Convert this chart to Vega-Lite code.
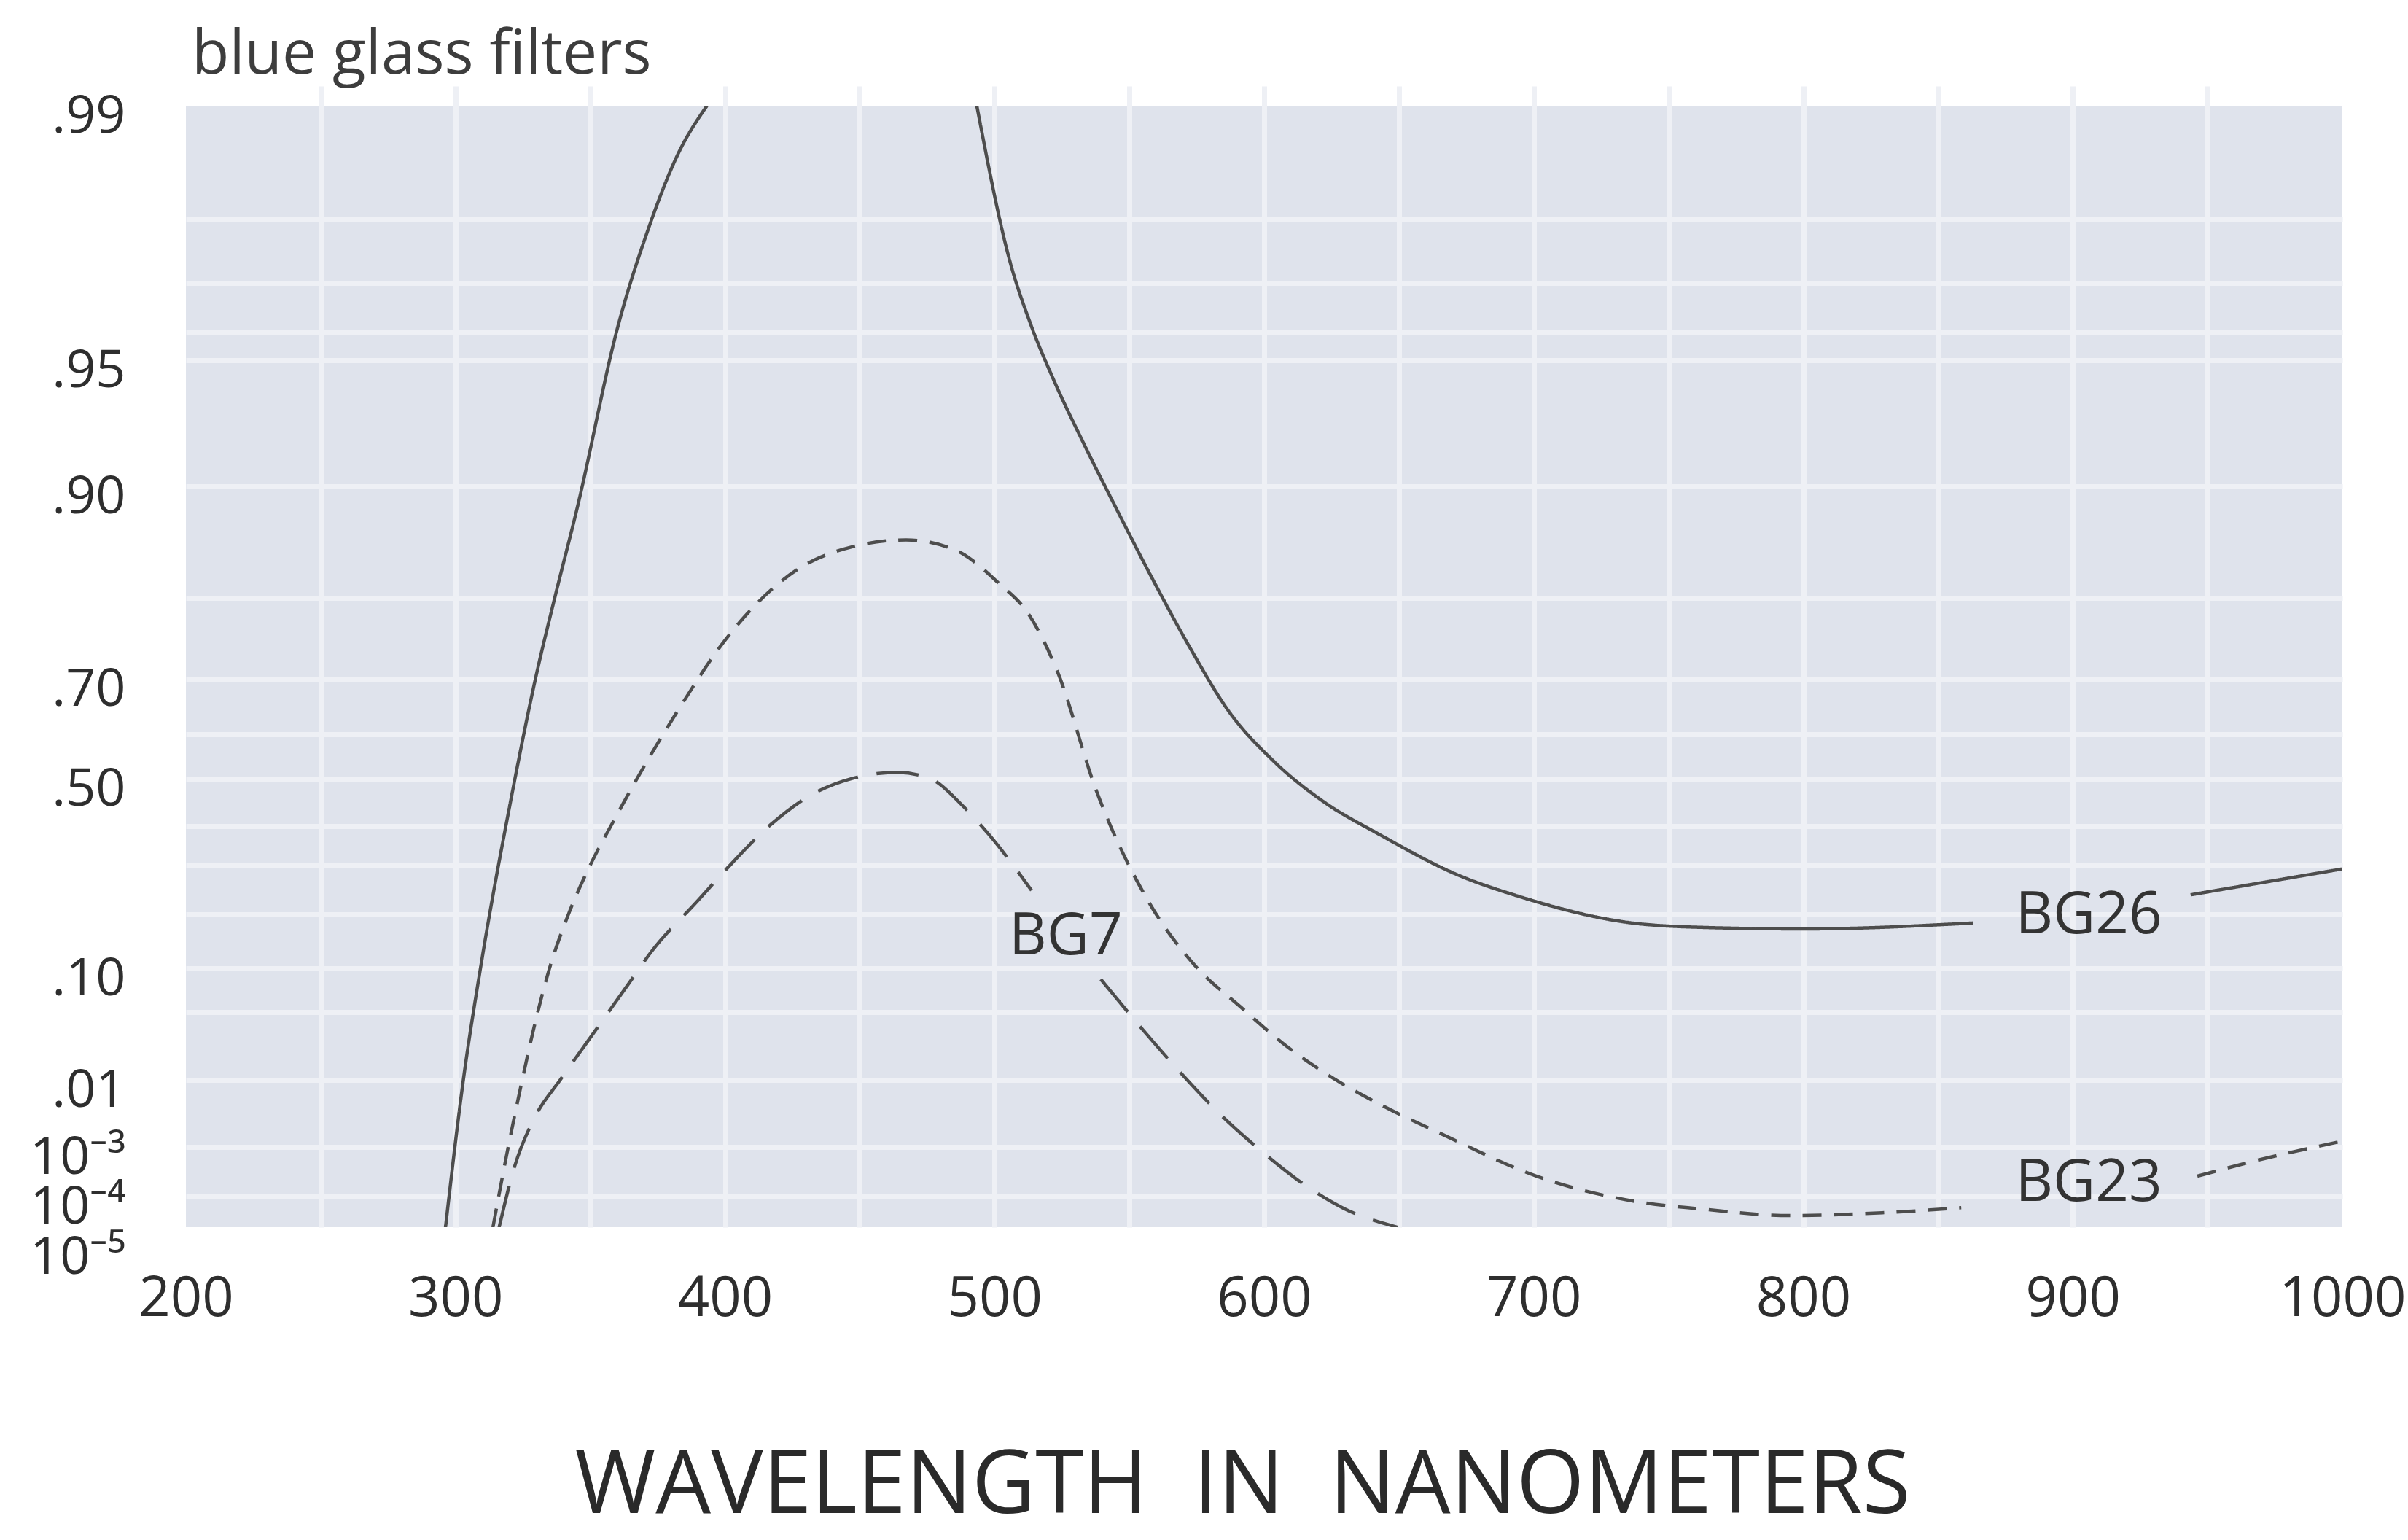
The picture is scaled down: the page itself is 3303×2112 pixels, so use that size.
{
  "$schema": "https://vega.github.io/schema/vega-lite/v6.json",
  "autosize": {"type": "none"},
  "width": 2958,
  "height": 1538,
  "padding": {"left": 255, "top": 145, "right": 90, "bottom": 429},
  "background": "white",
  "title": {"text": "blue glass filters", "anchor": "start", "frame": "group", "offset": -62, "baseline": "alphabetic", "font": "Open Sans", "fontSize": 84, "fontWeight": "normal", "color": "#3d3d3d", "dx": 8},
  "config": {"view": {"fill": "#dfe3ec", "stroke": null}, "font": "Open Sans"},
  "datasets": {
    "curves": [
      {"filter": "BG26", "seg": "BG26a", "nm": 296.3, "T": 0.000045},
      {"filter": "BG26", "seg": "BG26a", "nm": 303.0, "T": 0.0109},
      {"filter": "BG26", "seg": "BG26a", "nm": 309.5, "T": 0.107},
      {"filter": "BG26", "seg": "BG26a", "nm": 320.4, "T": 0.451},
      {"filter": "BG26", "seg": "BG26a", "nm": 330.4, "T": 0.711},
      {"filter": "BG26", "seg": "BG26a", "nm": 336.6, "T": 0.797},
      {"filter": "BG26", "seg": "BG26a", "nm": 345.2, "T": 0.881},
      {"filter": "BG26", "seg": "BG26a", "nm": 360.4, "T": 0.9615},
      {"filter": "BG26", "seg": "BG26a", "nm": 371.7, "T": 0.9786},
      {"filter": "BG26", "seg": "BG26a", "nm": 382.5, "T": 0.9857},
      {"filter": "BG26", "seg": "BG26a", "nm": 393.3, "T": 0.99},
      {"filter": "BG26", "seg": "BG26b", "nm": 493.4, "T": 0.99},
      {"filter": "BG26", "seg": "BG26b", "nm": 505.6, "T": 0.9735},
      {"filter": "BG26", "seg": "BG26b", "nm": 513.5, "T": 0.9615},
      {"filter": "BG26", "seg": "BG26b", "nm": 521.8, "T": 0.9425},
      {"filter": "BG26", "seg": "BG26b", "nm": 533.7, "T": 0.9156},
      {"filter": "BG26", "seg": "BG26b", "nm": 544.0, "T": 0.8856},
      {"filter": "BG26", "seg": "BG26b", "nm": 558.3, "T": 0.8183},
      {"filter": "BG26", "seg": "BG26b", "nm": 572.6, "T": 0.7378},
      {"filter": "BG26", "seg": "BG26b", "nm": 586.8, "T": 0.642},
      {"filter": "BG26", "seg": "BG26b", "nm": 603.8, "T": 0.538},
      {"filter": "BG26", "seg": "BG26b", "nm": 622.2, "T": 0.451},
      {"filter": "BG26", "seg": "BG26b", "nm": 643.0, "T": 0.378},
      {"filter": "BG26", "seg": "BG26b", "nm": 671.9, "T": 0.2806},
      {"filter": "BG26", "seg": "BG26b", "nm": 694.4, "T": 0.237},
      {"filter": "BG26", "seg": "BG26b", "nm": 735.0, "T": 0.185},
      {"filter": "BG26", "seg": "BG26b", "nm": 761.7, "T": 0.176},
      {"filter": "BG26", "seg": "BG26b", "nm": 800.1, "T": 0.173},
      {"filter": "BG26", "seg": "BG26b", "nm": 862.9, "T": 0.184},
      {"filter": "BG26", "seg": "BG26c", "nm": 943.7, "T": 0.240},
      {"filter": "BG26", "seg": "BG26c", "nm": 1000.0, "T": 0.293},
      {"filter": "BG23", "seg": "BG23a", "nm": 313.9, "T": 0.000045},
      {"filter": "BG23", "seg": "BG23a", "nm": 319.0, "T": 0.00086},
      {"filter": "BG23", "seg": "BG23a", "nm": 324.2, "T": 0.00904},
      {"filter": "BG23", "seg": "BG23a", "nm": 329.3, "T": 0.042},
      {"filter": "BG23", "seg": "BG23a", "nm": 335.0, "T": 0.1019},
      {"filter": "BG23", "seg": "BG23a", "nm": 341.8, "T": 0.1986},
      {"filter": "BG23", "seg": "BG23a", "nm": 350.4, "T": 0.3067},
      {"filter": "BG23", "seg": "BG23a", "nm": 358.9, "T": 0.4132},
      {"filter": "BG23", "seg": "BG23a", "nm": 365.8, "T": 0.4846},
      {"filter": "BG23", "seg": "BG23a", "nm": 382.8, "T": 0.645},
      {"filter": "BG23", "seg": "BG23a", "nm": 400.0, "T": 0.7477},
      {"filter": "BG23", "seg": "BG23a", "nm": 427.2, "T": 0.826},
      {"filter": "BG23", "seg": "BG23a", "nm": 447.5, "T": 0.846},
      {"filter": "BG23", "seg": "BG23a", "nm": 467.2, "T": 0.852},
      {"filter": "BG23", "seg": "BG23a", "nm": 485.3, "T": 0.843},
      {"filter": "BG23", "seg": "BG23a", "nm": 501.6, "T": 0.813},
      {"filter": "BG23", "seg": "BG23a", "nm": 512.6, "T": 0.780},
      {"filter": "BG23", "seg": "BG23a", "nm": 523.2, "T": 0.710},
      {"filter": "BG23", "seg": "BG23a", "nm": 537.8, "T": 0.474},
      {"filter": "BG23", "seg": "BG23a", "nm": 556.7, "T": 0.230},
      {"filter": "BG23", "seg": "BG23a", "nm": 574.0, "T": 0.107},
      {"filter": "BG23", "seg": "BG23a", "nm": 591.3, "T": 0.0558},
      {"filter": "BG23", "seg": "BG23a", "nm": 608.4, "T": 0.0298},
      {"filter": "BG23", "seg": "BG23a", "nm": 625.7, "T": 0.0109},
      {"filter": "BG23", "seg": "BG23a", "nm": 643.0, "T": 0.0067},
      {"filter": "BG23", "seg": "BG23a", "nm": 665.5, "T": 0.0028},
      {"filter": "BG23", "seg": "BG23a", "nm": 701.1, "T": 0.00047},
      {"filter": "BG23", "seg": "BG23a", "nm": 739.3, "T": 0.00009},
      {"filter": "BG23", "seg": "BG23a", "nm": 761.7, "T": 0.000078},
      {"filter": "BG23", "seg": "BG23a", "nm": 795.5, "T": 0.000066},
      {"filter": "BG23", "seg": "BG23a", "nm": 829.3, "T": 0.000071},
      {"filter": "BG23", "seg": "BG23a", "nm": 858.6, "T": 0.00008},
      {"filter": "BG23", "seg": "BG23b", "nm": 946.2, "T": 0.00047},
      {"filter": "BG23", "seg": "BG23b", "nm": 968.6, "T": 0.00076},
      {"filter": "BG23", "seg": "BG23b", "nm": 1000.0, "T": 0.00178},
      {"filter": "BG7", "seg": "BG7a", "nm": 316.2, "T": 0.000045},
      {"filter": "BG7", "seg": "BG7a", "nm": 321.9, "T": 0.00064},
      {"filter": "BG7", "seg": "BG7a", "nm": 329.3, "T": 0.0049},
      {"filter": "BG7", "seg": "BG7a", "nm": 339.0, "T": 0.0103},
      {"filter": "BG7", "seg": "BG7a", "nm": 348.7, "T": 0.032},
      {"filter": "BG7", "seg": "BG7a", "nm": 364.1, "T": 0.0818},
      {"filter": "BG7", "seg": "BG7a", "nm": 372.6, "T": 0.1304},
      {"filter": "BG7", "seg": "BG7a", "nm": 389.7, "T": 0.2269},
      {"filter": "BG7", "seg": "BG7a", "nm": 400.0, "T": 0.2896},
      {"filter": "BG7", "seg": "BG7a", "nm": 417.0, "T": 0.4034},
      {"filter": "BG7", "seg": "BG7a", "nm": 430.7, "T": 0.4617},
      {"filter": "BG7", "seg": "BG7a", "nm": 447.2, "T": 0.5007},
      {"filter": "BG7", "seg": "BG7a", "nm": 464.3, "T": 0.5144},
      {"filter": "BG7", "seg": "BG7a", "nm": 477.2, "T": 0.497},
      {"filter": "BG7", "seg": "BG7a", "nm": 487.8, "T": 0.445},
      {"filter": "BG7", "seg": "BG7a", "nm": 498.0, "T": 0.378},
      {"filter": "BG7", "seg": "BG7a", "nm": 513.7, "T": 0.249},
      {"filter": "BG7", "seg": "BG7b", "nm": 539.4, "T": 0.0875},
      {"filter": "BG7", "seg": "BG7b", "nm": 556.6, "T": 0.0366},
      {"filter": "BG7", "seg": "BG7b", "nm": 569.7, "T": 0.013},
      {"filter": "BG7", "seg": "BG7b", "nm": 582.8, "T": 0.0057},
      {"filter": "BG7", "seg": "BG7b", "nm": 596.5, "T": 0.0012},
      {"filter": "BG7", "seg": "BG7b", "nm": 615.3, "T": 0.000304},
      {"filter": "BG7", "seg": "BG7b", "nm": 629.5, "T": 0.0000789},
      {"filter": "BG7", "seg": "BG7b", "nm": 649.5, "T": 0.000045}
    ],
    "labels": [
      {"nm": 905.9, "T": 0.197, "label": "BG26"},
      {"nm": 905.9, "T": 0.000338, "label": "BG23"},
      {"nm": 526.4, "T": 0.158, "label": "BG7"}
    ]
  },
  "layer": [
    {
      "data": {"name": "curves"},
      "mark": {"type": "line", "clip": true, "strokeWidth": 4.5, "color": "#4d4d4d", "interpolate": "monotone"},
      "encoding": {
        "x": {
          "field": "nm", "type": "quantitative",
          "scale": {"domain": [200, 1000], "nice": false, "zero": false},
          "axis": {
            "values": [200, 250, 300, 350, 400, 450, 500, 550, 600, 650, 700, 750, 800, 850, 900, 950, 1000],
            "format": "d",
            "labelExpr": "datum.value % 100 == 0 ? datum.label : ''",
            "ticks": false, "domain": false,
            "labelPadding": 61, "labelFontSize": 76, "labelColor": "#2e2e2e", "labelFont": "Open Sans",
            "labelFlush": false, "labelOverlap": false, "labelBound": false,
            "title": "WAVELENGTH \u00a0IN \u00a0NANOMETERS",
            "titleFont": "Open Sans", "titleFontSize": 120, "titleFontWeight": "normal", "titleColor": "#2a2a2a", "titlePadding": 160, "titleX": 1449,
            "gridColor": "#eef0f5", "gridWidth": 7,
            "gridOpacity": {"condition": {"test": "datum.value == 200 || datum.value == 1000", "value": 0}, "value": 1}
          }
        },
        "y": {
          "field": "T", "type": "quantitative",
          "scale": {
            "domain": [0.00001, 0.0001, 0.001, 0.01, 0.05, 0.1, 0.2, 0.3, 0.4, 0.5, 0.6, 0.7, 0.8, 0.9, 0.95, 0.96, 0.97, 0.98, 0.99],
            "range": [1565, 1496, 1428, 1336, 1243, 1183, 1109, 1042, 988, 923, 862, 786, 675, 522, 349, 311, 243, 155, 0],
            "nice": false, "zero": false, "clamp": false
          },
          "axis": {
            "values": [0.00001, 0.0001, 0.001, 0.01, 0.05, 0.1, 0.2, 0.3, 0.4, 0.5, 0.6, 0.7, 0.8, 0.9, 0.95, 0.96, 0.97, 0.98, 0.99],
            "labelExpr": "datum.value == 0.99 ? '.99' : datum.value == 0.95 ? '.95' : datum.value == 0.9 ? '.90' : datum.value == 0.7 ? '.70' : datum.value == 0.5 ? '.50' : datum.value == 0.1 ? '.10' : datum.value == 0.01 ? '.01' : datum.value == 0.001 ? '10⁻³' : datum.value == 0.0001 ? '10⁻⁴' : datum.value == 0.00001 ? '10⁻⁵' : ''",
            "ticks": false, "domain": false, "title": null,
            "labelPadding": 83, "labelFontSize": 72, "labelColor": "#2e2e2e", "labelFont": "Open Sans",
            "labelOffset": 14, "labelOverlap": false, "labelBound": false, "labelFlush": false,
            "gridColor": "#eef0f5", "gridWidth": 7,
            "gridOpacity": {"condition": {"test": "datum.value == 0.99 || datum.value == 0.00001", "value": 0}, "value": 1}
          }
        },
        "strokeDash": {
          "field": "filter", "type": "nominal",
          "scale": {"domain": ["BG26", "BG23", "BG7"], "range": [[1, 0], [26, 17], [58, 26]]},
          "legend": null
        },
        "detail": {"field": "seg", "type": "nominal"}
      }
    },
    {
      "data": {"name": "labels"},
      "mark": {"type": "text", "font": "Open Sans", "fontSize": 80, "color": "#333333", "align": "center", "baseline": "middle"},
      "encoding": {
        "x": {"field": "nm", "type": "quantitative"},
        "y": {"field": "T", "type": "quantitative"},
        "text": {"field": "label", "type": "nominal"}
      }
    }
  ]
}
